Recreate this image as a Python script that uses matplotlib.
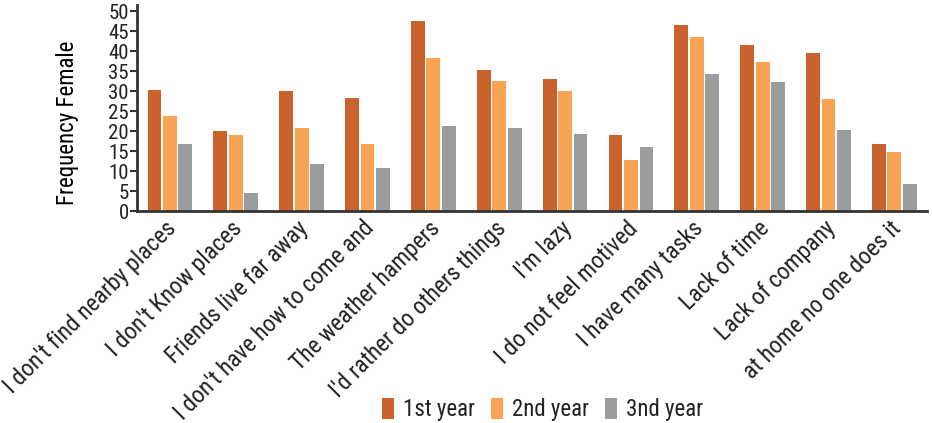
import matplotlib
matplotlib.use("Agg")
import matplotlib.pyplot as plt
import matplotlib.transforms as mtransforms
import numpy as np

# reasons given, frequency per year (female)
categories = ["I don't find nearby places", "I don't Know places", "Friends live far away",
              "I don't have how to come and", "The weather hampers", "I'd rather do others things",
              "I'm lazy", "I do not feel motived", "I have many tasks", "Lack of time",
              "Lack of company", "at home no one does it"]
year1 = [30.4, 20.1, 30.2, 28.2, 47.7, 35.3, 33.2, 19.1, 46.6, 41.5, 39.5, 16.8]
year2 = [23.7, 19.0, 20.7, 16.8, 38.4, 32.5, 30.2, 12.7, 43.7, 37.4, 28.1, 14.8]
year3 = [16.9, 4.6, 11.8, 10.8, 21.3, 20.9, 19.3, 16.0, 34.4, 32.4, 20.2, 6.7]
series_names = ["1st year", "2nd year", "3nd year"]
colors = ["#C9622C", "#F9A355", "#9B9C9D"]

plt.rcParams['font.family'] = ['Roboto Condensed', 'DejaVu Sans']
plt.rcParams['text.color'] = "#222222"

fig = plt.figure(figsize=(9.32, 4.23), dpi=100)
ax = fig.add_axes([0.147, 0.501, 0.848, 0.487])

x = np.arange(len(categories))
w = 0.21
off = 0.235
for i, (vals, name, c) in enumerate(zip([year1, year2, year3], series_names, colors)):
    ax.bar(x + (i - 1) * off, vals, width=w, color=c, label=name)

ax.set_xlim(-0.5, len(categories) - 0.5)
ax.set_ylim(0, 51.6)
ax.set_yticks(np.arange(0, 51, 5))
ax.tick_params(axis='y', labelsize=15, length=5, width=1.5, color="#333333", pad=1, labelcolor="#222222")
ax.set_xticks(x)
ax.set_xticklabels(categories, rotation=45, ha='right', rotation_mode='anchor', fontsize=17)
ax.tick_params(axis='x', length=0, pad=4, labelcolor="#222222")
# nudge the slanted labels a bit to the left, like the original
shift = mtransforms.ScaledTranslation(-5 / 100, 0, fig.dpi_scale_trans)
for lbl in ax.get_xticklabels():
    lbl.set_transform(lbl.get_transform() + shift)
ax.set_ylabel("Frequency Female", fontsize=16.5)
ax.yaxis.set_label_coords(-0.074, 0.43)

for s in ["top", "right"]:
    ax.spines[s].set_visible(False)
for s in ["left", "bottom"]:
    ax.spines[s].set_linewidth(2)
    ax.spines[s].set_color("#333333")

fig.legend(loc='lower center', bbox_to_anchor=(0.582, -0.045), ncol=3, frameon=False,
           fontsize=16.5, handlelength=0.52, handleheight=1.0, handletextpad=0.4, columnspacing=0.7)

fig.savefig("out.png", dpi=100)
